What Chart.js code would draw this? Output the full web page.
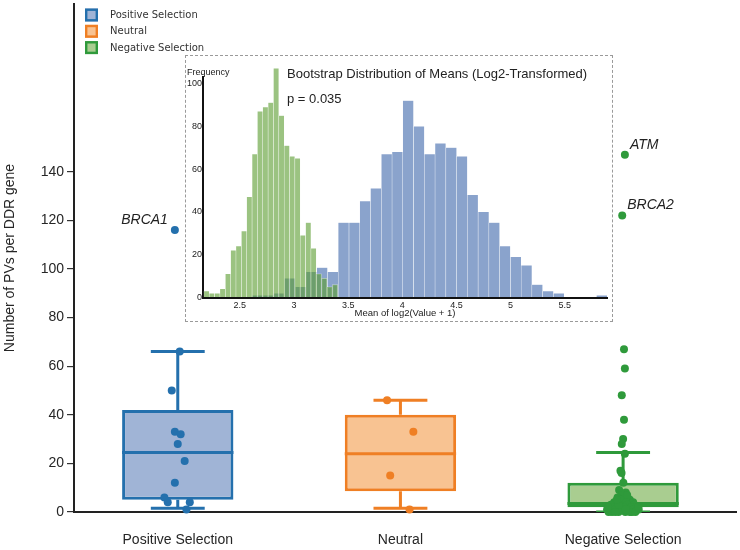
<!DOCTYPE html>
<html><head><meta charset="utf-8">
<script src="https://cdn.jsdelivr.net/npm/chart.js@4.4.1/dist/chart.umd.min.js"></script>
<style>
html,body{margin:0;padding:0;background:#fff;}
#wrap{position:relative;width:740px;height:550px;overflow:hidden;}
#main{position:absolute;left:0;top:0;}
#insetBox{position:absolute;left:185px;top:55px;width:428px;height:267px;box-sizing:border-box;border:1px dashed #9a9a9a;background:#fff;}
#inset{position:absolute;left:185px;top:55px;}
</style></head><body>
<div id="wrap">
<canvas id="main" width="740" height="550"></canvas>
<div id="insetBox"></div>
<canvas id="inset" width="428" height="267"></canvas>
</div>
<script>
// ---------------- main chart data ----------------
const categories = ['Positive Selection', 'Neutral', 'Negative Selection'];
const yTickValues = [0, 20, 40, 60, 80, 100, 120, 140];
const boxQ1 = [5, 8.5, 2];
const boxMedian = [24.5, 24, 3.5];
const boxQ3 = [42, 40, 12];
const whiskerLow = [1.5, 1.5, 0];
const whiskerHigh = [66, 46, 24.5];
const positiveValues = [116, 66, 50, 33, 32, 28, 21, 12, 6, 4, 4, 1];
const positiveJitter = [-0.013, 0.009, -0.027, -0.013, 0.013, 0, 0.031, -0.013, -0.060, -0.045, 0.054, 0.039];
const neutralValues = [46, 33, 15, 1];
const neutralJitter = [-0.06, 0.058, -0.046, 0.041];
const negativeValues = [147, 122, 67, 59, 48, 38, 30, 28, 24, 17, 16, 12, 9, 8, 7, 6, 6, 5, 5, 4, 4, 4, 3, 3, 3, 3, 2, 2, 2, 2, 2, 1, 1, 1, 1, 1, 1, 0, 0, 0, 0, 0, 0, 1, 1, 2, 0, 0, 3, 2, 1, 5, 7];
const negativeJitter = [0.008, -0.004, 0.004, 0.008, -0.006, 0.004, 0, -0.006, 0.008, -0.012, -0.007, 0.001, -0.018, 0.012, -0.008, 0.02, -0.025, 0.03, -0.01, -0.04, 0.015, 0.045, -0.03, 0.02, -0.055, 0.05, -0.045, 0.035, -0.015, 0.06, 0.005, -0.06, -0.035, 0.025, 0.045, -0.01, 0.065, -0.05, -0.02, 0.01, 0.04, -0.065, 0.03, -0.072, 0.07, -0.068, 0.055, -0.035, -0.02, 0.068, 0.012, -0.028, 0.018];
const geneNames = ['BRCA1', 'ATM', 'BRCA2'];
const geneGroups = [0, 2, 2];
const geneValues = [116, 147, 122];
const yAxisTitle = 'Number of PVs per DDR gene';

// ---------------- inset data ----------------
const insetTitle = 'Bootstrap Distribution of Means (Log2-Transformed)';
const pValueText = 'p = 0.035';
const freqLabel = 'Frequency';
const insetXTitle = 'Mean of log2(Value + 1)';
const insetXTicks = [2.5, 3, 3.5, 4, 4.5, 5, 5.5];
const insetYTicks = [0, 20, 40, 60, 80, 100];
const positiveBinCenters = [2.664, 2.763, 2.862, 2.962, 3.061, 3.160, 3.260, 3.359, 3.458, 3.558, 3.657, 3.756, 3.856, 3.955, 4.054, 4.154, 4.253, 4.352, 4.452, 4.551, 4.650, 4.750, 4.849, 4.948, 5.048, 5.147, 5.246, 5.346, 5.445, 5.544, 5.644, 5.743, 5.842];
const positiveBinCounts = [1, 1, 2, 9, 5, 12, 14, 12, 35, 35, 45, 51, 67, 68, 92, 80, 67, 72, 70, 66, 48, 40, 35, 24, 19, 15, 6, 3, 2, 0, 0, 0, 1];
const negativeBinCenters = [2.193, 2.242, 2.292, 2.341, 2.391, 2.440, 2.489, 2.539, 2.588, 2.638, 2.687, 2.736, 2.786, 2.835, 2.885, 2.934, 2.983, 3.033, 3.082, 3.132, 3.181, 3.230, 3.280, 3.329, 3.379];
const negativeBinCounts = [3, 2, 2, 4, 11, 22, 24, 31, 47, 67, 87, 89, 91, 107, 85, 71, 66, 65, 29, 35, 23, 11, 9, 5, 6];

// ---------------- styles ----------------
const edgeColors = ['#2470ad', '#ef7f24', '#2f9a3b'];
const fillColors = ['#a0b4d6', '#f8c392', '#a9cd90'];
const AX_FONT = '"Liberation Sans", Arial, sans-serif';
const groupValues = [positiveValues, neutralValues, negativeValues];
const groupJitter = [positiveJitter, neutralJitter, negativeJitter];

function boxLines(i) {
  const capHalf = 0.121, boxHalf = 0.25;
  const gap = () => ({x: i, y: null});
  return [
    {x: i - boxHalf, y: boxMedian[i]}, {x: i + boxHalf, y: boxMedian[i]}, gap(),
    {x: i, y: boxQ3[i]}, {x: i, y: whiskerHigh[i]}, gap(),
    {x: i - capHalf, y: whiskerHigh[i]}, {x: i + capHalf, y: whiskerHigh[i]}, gap(),
    {x: i, y: boxQ1[i]}, {x: i, y: whiskerLow[i]}, gap(),
    {x: i - capHalf, y: whiskerLow[i]}, {x: i + capHalf, y: whiskerLow[i]}
  ];
}

const datasets = [];
categories.forEach((c, i) => {
  datasets.push({
    type: 'scatter', label: c,
    data: groupValues[i].map((v, k) => ({x: i + groupJitter[i][k], y: v})),
    backgroundColor: edgeColors[i], borderWidth: 0, pointRadius: 4, order: 0, clip: false
  });
});
categories.forEach((c, i) => {
  datasets.push({
    type: 'line', label: c + ' whiskers', data: boxLines(i),
    borderColor: edgeColors[i], borderWidth: 3, pointRadius: 0, spanGaps: false,
    tension: 0, borderCapStyle: 'butt', order: 1, fill: false
  });
});
datasets.push({
  type: 'bar', label: 'boxes',
  data: categories.map((c, i) => ({x: i, y: [boxQ1[i], boxQ3[i]]})),
  backgroundColor: fillColors, borderColor: edgeColors, borderWidth: 3,
  borderSkipped: false, categoryPercentage: 0.5, barPercentage: 1, order: 2
});

const legendPlugin = {
  id: 'customLegend',
  afterDraw(chart) {
    const ctx = chart.ctx;
    const left = chart.chartArea.left + 11;
    ctx.save();
    ctx.font = '10px "DejaVu Sans", sans-serif';
    ctx.textBaseline = 'middle';
    ctx.textAlign = 'left';
    categories.forEach((c, i) => {
      const y = 15 + i * 16.3;
      ctx.fillStyle = fillColors[i];
      ctx.fillRect(left, y - 6.5, 13, 13);
      ctx.strokeStyle = edgeColors[i];
      ctx.lineWidth = 2.4;
      ctx.strokeRect(left + 1.2, y - 5.3, 10.6, 10.6);
      ctx.fillStyle = '#333';
      ctx.fillText(c, left + 25, y + 0.5);
    });
    ctx.restore();
  }
};

const genePlugin = {
  id: 'geneLabels',
  afterDatasetsDraw(chart) {
    const ctx = chart.ctx, xs = chart.scales.x, ys = chart.scales.y;
    ctx.save();
    ctx.font = 'italic 14px ' + AX_FONT;
    ctx.fillStyle = '#222';
    ctx.textBaseline = 'middle';
    geneNames.forEach((name, j) => {
      const g = geneGroups[j];
      const k = groupValues[g].indexOf(geneValues[j]);
      const px = xs.getPixelForValue(g + groupJitter[g][k]);
      const py = ys.getPixelForValue(geneValues[j]);
      if (g === 0) { ctx.textAlign = 'right'; ctx.fillText(name, px - 7, py - 10); }
      else { ctx.textAlign = 'left'; ctx.fillText(name, px + 5, py - 10); }
    });
    ctx.restore();
  }
};

new Chart(document.getElementById('main'), {
  type: 'scatter',
  data: {datasets},
  plugins: [legendPlugin, genePlugin],
  options: {
    responsive: false, animation: false, devicePixelRatio: 1,
    layout: {padding: {top: 0, right: 3, left: 0, bottom: 0}},
    plugins: {legend: {display: false}, tooltip: {enabled: false}},
    scales: {
      x: {
        type: 'linear', min: -0.466, max: 2.507, offset: false,
        afterBuildTicks: s => { s.ticks = categories.map((c, i) => ({value: i})); },
        afterFit: s => { s.height = 38; s.paddingLeft = 0; s.paddingRight = 0; },
        ticks: {callback: v => categories[v], font: {family: AX_FONT, size: 14}, color: '#262626', padding: 20, maxRotation: 0, autoSkip: false},
        grid: {display: true, drawOnChartArea: false, drawTicks: false, offset: false},
        border: {display: true, color: '#222', width: 2}
      },
      y: {
        type: 'linear', min: 0, max: 209,
        afterBuildTicks: s => { s.ticks = yTickValues.map(v => ({value: v})); },
        afterFit: s => { s.width = 74; s.paddingTop = 0; },
        ticks: {font: {family: AX_FONT, size: 14}, color: '#262626', padding: 3},
        grid: {display: true, drawOnChartArea: false, drawTicks: true, tickLength: 7, color: '#333', lineWidth: 1.2},
        border: {display: true, color: '#222', width: 2},
        title: {display: true, text: yAxisTitle, font: {family: AX_FONT, size: 14}, color: '#262626', padding: {top: 2, bottom: 0}}
      }
    }
  }
});

// ---------------- inset ----------------
const insetTextPlugin = {
  id: 'insetText',
  afterDraw(chart) {
    const ctx = chart.ctx;
    ctx.save();
    ctx.fillStyle = '#222';
    ctx.textAlign = 'left';
    ctx.textBaseline = 'middle';
    ctx.font = '9px ' + AX_FONT;
    ctx.fillText(freqLabel, 2, 18);
    ctx.font = '13px ' + AX_FONT;
    ctx.fillText(insetTitle, 102, 19.5);
    ctx.fillText(pValueText, 102, 44);
    ctx.restore();
  }
};

new Chart(document.getElementById('inset'), {
  type: 'bar',
  data: {
    datasets: [
      {
        label: 'Negative Selection', xAxisID: 'x2',
        data: negativeBinCenters.map((c, i) => ({x: c, y: negativeBinCounts[i]})),
        backgroundColor: 'rgba(88,155,45,0.6)', borderColor: 'rgba(255,255,255,0.55)', borderWidth: 0.5,
        categoryPercentage: 1, barPercentage: 1, grouped: false, order: 0, clip: false
      },
      {
        label: 'Positive Selection', xAxisID: 'x',
        data: positiveBinCenters.map((c, i) => ({x: c, y: positiveBinCounts[i]})),
        backgroundColor: 'rgba(60,102,170,0.6)', borderColor: 'rgba(255,255,255,0.55)', borderWidth: 0.5,
        categoryPercentage: 1, barPercentage: 1, grouped: false, order: 1, clip: false
      }
    ]
  },
  plugins: [insetTextPlugin],
  options: {
    responsive: false, animation: false, devicePixelRatio: 1,
    layout: {padding: {top: 22, right: 6, left: 0, bottom: 0}},
    plugins: {legend: {display: false}, tooltip: {enabled: false}},
    scales: {
      x: {
        type: 'linear', min: 2.16, max: 5.89, offset: false,
        afterBuildTicks: s => { s.ticks = insetXTicks.map(v => ({value: v})); },
        afterFit: s => { s.height = 24.5; },
        ticks: {callback: v => String(v), font: {family: AX_FONT, size: 9}, color: '#222', padding: 3, maxRotation: 0, autoSkip: false},
        grid: {display: true, drawOnChartArea: false, drawTicks: false, offset: false},
        border: {display: true, color: '#111', width: 2},
        title: {display: true, text: insetXTitle, font: {family: AX_FONT, size: 9.5}, color: '#222', padding: {top: 0, bottom: 3.3}}
      },
      x2: {
        type: 'linear', min: 2.16, max: 5.89, offset: false, display: false,
        grid: {offset: false}
      },
      y: {
        type: 'linear', min: 0, max: 103,
        afterBuildTicks: s => { s.ticks = insetYTicks.map(v => ({value: v})); },
        afterFit: s => { s.width = 18; s.paddingTop = 0; },
        ticks: {font: {family: AX_FONT, size: 9}, color: '#222', padding: 1},
        grid: {display: true, drawOnChartArea: false, drawTicks: false},
        border: {display: true, color: '#111', width: 2}
      }
    }
  }
});
</script>
</body></html>
